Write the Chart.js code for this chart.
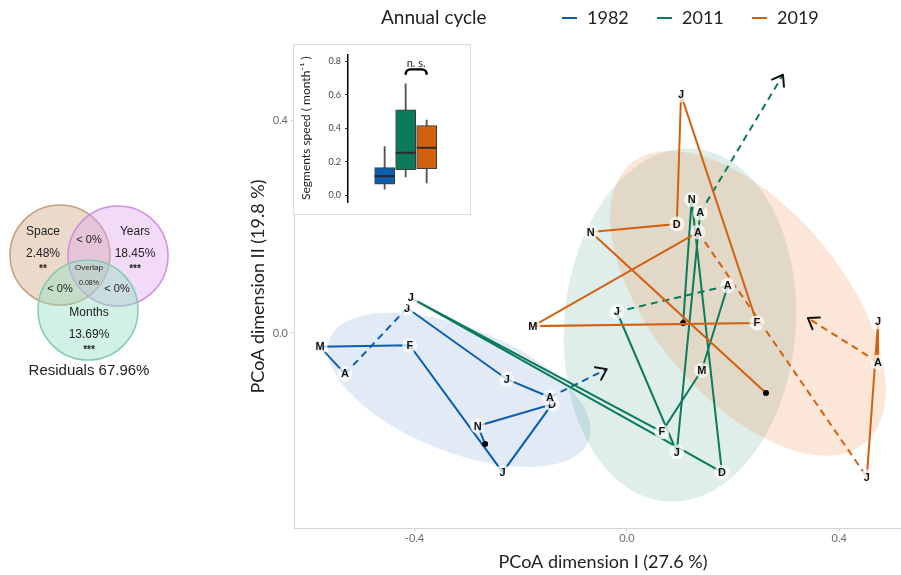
<!DOCTYPE html>
<html>
<head>
<meta charset="utf-8">
<title>Annual cycle – PCoA trajectories</title>
<script src="https://cdn.jsdelivr.net/npm/chart.js@4.4.1/dist/chart.umd.min.js"></script>
<style>
  html, body { margin: 0; padding: 0; background: #fff; }
  #stage { position: relative; width: 901px; height: 575px; overflow: hidden; }
  #main { position: absolute; left: 0; top: 0; }
  #venn { position: absolute; left: 0; top: 180px; }
  #insetFrame { position: absolute; left: 293px; top: 44px; width: 176px; height: 169px;
                border: 1px solid #dcdcdc; background: #fff; }
  #inset { position: absolute; left: 0; top: 0; }
</style>
</head>
<body>
<div id="stage">
  <canvas id="main" width="912" height="575"></canvas>
  <canvas id="venn" width="240" height="210"></canvas>
  <div id="insetFrame"><canvas id="inset" width="176" height="169"></canvas></div>
</div>
<script>
// ---------------- data ----------------
const years = ['1982', '2011', '2019'];
const yearColors = ['#0d5eae', '#0b7b5a', '#d2600f'];

// Each trajectory: cycle start (dot), Nov ... Aug, then the arrow end.
const monthLabels = ['', 'N', 'D', 'J', 'F', 'M', 'A', 'J', 'J', 'A', ''];
// segments that bridge unsampled months are dashed (index of the segment's first point)
const gapSegments = [6, 9];

const pcoa1982X = [-0.267, -0.281, -0.141, -0.234, -0.409, -0.578, -0.531, -0.414, -0.226, -0.145, -0.038];
const pcoa1982Y = [-0.209, -0.175, -0.134, -0.262, -0.023, -0.026, -0.077,  0.047, -0.087, -0.121, -0.068];

const pcoa2011X = [ 0.106,  0.122,  0.179, -0.407,  0.066,  0.141,  0.190, -0.019,  0.094,  0.138,  0.294];
const pcoa2011Y = [ 0.019,  0.251, -0.262,  0.066, -0.186, -0.070,  0.089,  0.040, -0.224,  0.226,  0.486];

const pcoa2019X = [ 0.262, -0.068,  0.094,  0.102,  0.245, -0.177,  0.134,  0.452,  0.473,  0.473,  0.341];
const pcoa2019Y = [-0.113,  0.190,  0.205,  0.448,  0.019,  0.013,  0.190, -0.271,  0.021, -0.055,  0.028];

const seriesX = [pcoa1982X, pcoa2011X, pcoa2019X];
const seriesY = [pcoa1982Y, pcoa2011Y, pcoa2019Y];

// confidence ellipses per year (centre, semi-axes, orientation in degrees)
const ellipseCenterX = [-0.316, 0.100, 0.228];
const ellipseCenterY = [-0.107, 0.015, 0.056];
const ellipseMajor   = [ 0.262, 0.333, 0.343];
const ellipseMinor   = [ 0.117, 0.218, 0.179];
const ellipseAngle   = [-21.5,  85.4, -50.0];
const ellipseFill = ['rgba(13,94,174,0.12)', 'rgba(11,123,90,0.13)', 'rgba(240,130,60,0.20)'];

const xTicks = [-0.4, 0.0, 0.4];
const yTicks = [0.0, 0.4];

// segment speed distribution per year
const speedLow    = [0.036, 0.109, 0.073];
const speedQ1     = [0.065, 0.152, 0.158];
const speedMedian = [0.113, 0.253, 0.283];
const speedQ3     = [0.164, 0.510, 0.415];
const speedHigh   = [0.290, 0.666, 0.449];
const speedTicks  = [0.0, 0.2, 0.4, 0.6, 0.8];

// variance partitioning
const vennSets   = ['Space', 'Years', 'Months'];
const vennUnique = ['2.48%', '18.45%', '13.69%'];
const vennStars  = ['**', '***', '***'];
const vennPairs  = ['< 0%', '< 0%', '< 0%'];   // Space∩Years, Space∩Months, Years∩Months
const vennCommon = '0.08%';
const vennResidual = '67.96%';

const UI_FONT = 'Lato, "Open Sans", sans-serif';
const LABEL_FONT = '"Liberation Sans", Arial, sans-serif';

// ---------------- main ordination plot ----------------
const ellipses = {
  id: 'ellipses',
  beforeDatasetsDraw(chart) {
    const {ctx, chartArea: a, scales: {x, y}} = chart;
    ctx.save();
    ctx.beginPath();
    ctx.rect(a.left, a.top, a.right - a.left, a.bottom - a.top);
    ctx.clip();
    years.forEach((_, k) => {
      const phi = ellipseAngle[k] * Math.PI / 180;
      ctx.beginPath();
      for (let s = 0; s <= 180; s++) {
        const t = s / 180 * 2 * Math.PI;
        const dx = ellipseMajor[k] * Math.cos(t) * Math.cos(phi) - ellipseMinor[k] * Math.sin(t) * Math.sin(phi);
        const dy = ellipseMajor[k] * Math.cos(t) * Math.sin(phi) + ellipseMinor[k] * Math.sin(t) * Math.cos(phi);
        const px = x.getPixelForValue(ellipseCenterX[k] + dx);
        const py = y.getPixelForValue(ellipseCenterY[k] + dy);
        if (s === 0) ctx.moveTo(px, py); else ctx.lineTo(px, py);
      }
      ctx.closePath();
      ctx.fillStyle = ellipseFill[k];
      ctx.fill();
    });
    ctx.restore();
  }
};

const monthTags = {
  id: 'monthTags',
  afterDatasetsDraw(chart) {
    const ctx = chart.ctx;
    ctx.save();
    // arrow heads at the end of each trajectory
    chart.data.datasets.forEach((ds, k) => {
      const pts = chart.getDatasetMeta(k).data;
      const tip = pts[pts.length - 1], prev = pts[pts.length - 2];
      const ang = Math.atan2(tip.y - prev.y, tip.x - prev.x);
      ctx.strokeStyle = '#111';
      ctx.lineWidth = 2;
      ctx.lineCap = 'round';
      ctx.beginPath();
      [0.62, -0.62].forEach(d => {
        ctx.moveTo(tip.x, tip.y);
        ctx.lineTo(tip.x + 12 * Math.cos(ang + Math.PI + d), tip.y + 12 * Math.sin(ang + Math.PI + d));
      });
      ctx.stroke();
    });
    // month letters on a pale disc
    chart.data.datasets.forEach((ds, k) => {
      chart.getDatasetMeta(k).data.forEach((pt, i) => {
        const lab = monthLabels[i];
        if (!lab) return;
        ctx.fillStyle = 'rgba(255,255,255,0.72)';
        ctx.beginPath();
        ctx.arc(pt.x, pt.y, 7.5, 0, 2 * Math.PI);
        ctx.fill();
        ctx.fillStyle = '#111';
        ctx.font = 'bold 11px ' + LABEL_FONT;
        ctx.textAlign = 'center';
        ctx.textBaseline = 'middle';
        ctx.fillText(lab, pt.x, pt.y + 0.5);
      });
    });
    ctx.restore();
  }
};

const topLegend = {
  id: 'topLegend',
  afterDraw(chart) {
    const ctx = chart.ctx;
    ctx.save();
    ctx.textBaseline = 'middle';
    ctx.textAlign = 'left';
    ctx.fillStyle = '#222';
    ctx.font = '19px ' + UI_FONT;
    ctx.fillText('Annual cycle', 381, 18);
    ctx.font = '18px ' + UI_FONT;
    chart.data.datasets.forEach((ds, k) => {
      const x = 562 + 95 * k;
      ctx.strokeStyle = ds.borderColor;
      ctx.lineWidth = 2;
      ctx.beginPath();
      ctx.moveTo(x, 18);
      ctx.lineTo(x + 15, 18);
      ctx.stroke();
      ctx.fillStyle = '#222';
      ctx.fillText(ds.label, x + 25, 18);
    });
    ctx.restore();
  }
};

new Chart(document.getElementById('main'), {
  type: 'scatter',
  data: {
    datasets: years.map((yr, k) => ({
      label: yr,
      data: seriesX[k].map((v, i) => ({x: v, y: seriesY[k][i]})),
      showLine: true,
      borderColor: yearColors[k],
      borderWidth: 2,
      tension: 0,
      pointRadius: c => c.dataIndex === 0 ? 3 : 0,
      pointBackgroundColor: '#000',
      pointBorderWidth: 0,
      segment: {borderDash: c => gapSegments.includes(c.p0DataIndex) ? [7, 5] : undefined},
      order: years.length - k
    }))
  },
  options: {
    responsive: false,
    animation: false,
    events: [],
    layout: {autoPadding: false, padding: {top: 45, right: 0, bottom: 0, left: 0}},
    plugins: {legend: {display: false}, tooltip: {enabled: false}},
    scales: {
      x: {
        type: 'linear', min: -0.627, max: 0.537,
        afterBuildTicks: s => { s.ticks = xTicks.map(v => ({value: v})); },
        afterFit: s => { s.height = 47; },
        grid: {display: true, drawOnChartArea: false, drawTicks: true, tickLength: 3, color: '#cfcfcf'},
        border: {display: true, color: '#d4d4d4', width: 1},
        ticks: {color: '#6e6e6e', font: {family: UI_FONT, size: 11}, padding: 1,
                callback: v => Number(v).toFixed(1)},
        title: {display: true, text: 'PCoA dimension I (27.6 %)', color: '#222',
                font: {family: UI_FONT, size: 18}, padding: {top: 0, bottom: 2}}
      },
      y: {
        type: 'linear', min: -0.367, max: 0.542,
        afterBuildTicks: s => { s.ticks = yTicks.map(v => ({value: v})); },
        afterFit: s => { s.width = 294; },
        grid: {display: true, drawOnChartArea: false, drawTicks: true, tickLength: 3, color: '#cfcfcf'},
        border: {display: true, color: '#d4d4d4', width: 1},
        ticks: {color: '#6e6e6e', font: {family: UI_FONT, size: 11}, padding: 3,
                callback: v => Number(v).toFixed(1)},
        title: {display: true, text: 'PCoA dimension II (19.8 %)', color: '#222',
                font: {family: UI_FONT, size: 18}, padding: {top: 247, bottom: 0}}
      }
    }
  },
  plugins: [ellipses, monthTags, topLegend]
});

// ---------------- inset: segment speed boxplots ----------------
const boxDecor = {
  id: 'boxDecor',
  afterDatasetsDraw(chart) {
    const {ctx, scales: {x, y}} = chart;
    ctx.save();
    // medians
    ctx.strokeStyle = '#2a2a2a';
    ctx.lineWidth = 2;
    speedMedian.forEach((m, i) => {
      const cx = x.getPixelForValue(i + 1), py = y.getPixelForValue(m);
      ctx.beginPath();
      ctx.moveTo(cx - 10, py);
      ctx.lineTo(cx + 10, py);
      ctx.stroke();
    });
    // significance bracket between 2011 and 2019
    const x1 = x.getPixelForValue(2), x2 = x.getPixelForValue(3);
    const yTop = y.getPixelForValue(0.752), yEnd = y.getPixelForValue(0.72);
    ctx.strokeStyle = '#000';
    ctx.lineWidth = 2.4;
    ctx.lineJoin = 'round';
    ctx.beginPath();
    ctx.moveTo(x1, yEnd);
    ctx.quadraticCurveTo(x1, yTop, x1 + 5, yTop);
    ctx.lineTo(x2 - 5, yTop);
    ctx.quadraticCurveTo(x2, yTop, x2, yEnd);
    ctx.stroke();
    ctx.fillStyle = '#222';
    ctx.font = '11px ' + UI_FONT;
    ctx.textAlign = 'center';
    ctx.textBaseline = 'middle';
    ctx.fillText('n. s.', (x1 + x2) / 2, y.getPixelForValue(0.79));
    ctx.restore();
  }
};

new Chart(document.getElementById('inset'), {
  type: 'bar',
  data: {
    datasets: [
      {
        data: years.map((_, i) => ({x: i + 1, y: [speedQ1[i], speedQ3[i]]})),
        backgroundColor: yearColors,
        borderColor: '#3c3c3c',
        borderWidth: 1,
        borderSkipped: false,
        barThickness: 20,
        grouped: false,
        order: 1
      },
      {
        data: years.map((_, i) => ({x: i + 1, y: [speedLow[i], speedHigh[i]]})),
        backgroundColor: '#555',
        borderWidth: 0,
        barThickness: 1.2,
        grouped: false,
        order: 2
      }
    ]
  },
  options: {
    responsive: false,
    animation: false,
    events: [],
    layout: {autoPadding: false, padding: {top: 8, right: 6, bottom: 12, left: 0}},
    plugins: {legend: {display: false}, tooltip: {enabled: false}},
    scales: {
      x: {type: 'linear', min: 0.175, max: 3.857, display: false},
      y: {
        type: 'linear', min: -0.0415, max: 0.8415,
        afterBuildTicks: s => { s.ticks = speedTicks.map(v => ({value: v})); },
        afterFit: s => { s.width = 54; },
        grid: {display: true, drawOnChartArea: false, drawTicks: true, tickLength: 3, color: '#333'},
        border: {display: true, color: '#000', width: 1.5},
        ticks: {color: '#444', font: {family: UI_FONT, size: 9}, padding: 4,
                callback: v => Number(v).toFixed(1)},
        title: {display: true, text: 'Segments speed ( month⁻¹ )', color: '#222',
                font: {family: UI_FONT, size: 12}, padding: {top: 5, bottom: 0}}
      }
    }
  },
  plugins: [boxDecor]
});

// ---------------- variance partitioning diagram ----------------
const vennLayout = {
  circles: [{x: 60, y: 75}, {x: 118, y: 76}, {x: 88, y: 130}],
  radius: 50,
  fill: ['rgba(205,160,120,0.40)', 'rgba(222,165,240,0.40)', 'rgba(150,225,195,0.45)'],
  stroke: ['rgba(190,150,118,0.9)', 'rgba(200,135,225,0.9)', 'rgba(120,200,170,0.9)'],
  nameAt: [{x: 43, y: 52}, {x: 135, y: 52}, {x: 89, y: 133}],
  pairAt: [{x: 89, y: 60}, {x: 60, y: 109}, {x: 117, y: 109}],
  commonAt: {x: 89, y: 88},
  residualAt: {x: 89, y: 191}
};

const vennText = {
  id: 'vennText',
  afterDatasetsDraw(chart) {
    const {ctx, scales: {x, y}} = chart;
    const P = (p, dy = 0) => [x.getPixelForValue(p.x), y.getPixelForValue(p.y + dy)];
    ctx.save();
    ctx.fillStyle = '#222';
    ctx.textAlign = 'center';
    ctx.textBaseline = 'middle';
    vennSets.forEach((name, i) => {
      const at = vennLayout.nameAt[i];
      ctx.font = '12px ' + LABEL_FONT;
      ctx.fillText(name, ...P(at));
      ctx.fillText(vennUnique[i], ...P(at, 22));
      ctx.font = 'bold 10px ' + LABEL_FONT;
      ctx.fillText(vennStars[i], ...P(at, 37));
    });
    ctx.font = '11px ' + LABEL_FONT;
    vennPairs.forEach((t, i) => ctx.fillText(t, ...P(vennLayout.pairAt[i])));
    ctx.font = '8px ' + LABEL_FONT;
    ctx.fillText('Overlap', ...P(vennLayout.commonAt));
    ctx.font = '7px ' + LABEL_FONT;
    ctx.fillText(vennCommon, ...P(vennLayout.commonAt, 15));
    ctx.font = '15px ' + LABEL_FONT;
    ctx.fillText('Residuals ' + vennResidual, ...P(vennLayout.residualAt));
    ctx.restore();
  }
};

new Chart(document.getElementById('venn'), {
  type: 'bubble',
  data: {
    datasets: vennSets.map((name, i) => ({
      label: name,
      data: [{x: vennLayout.circles[i].x, y: vennLayout.circles[i].y, r: vennLayout.radius}],
      backgroundColor: vennLayout.fill[i],
      borderColor: vennLayout.stroke[i],
      borderWidth: 1.5,
      clip: false,
      order: vennSets.length - i
    }))
  },
  options: {
    responsive: false,
    animation: false,
    events: [],
    layout: {autoPadding: false, padding: 0},
    plugins: {legend: {display: false}, tooltip: {enabled: false}},
    scales: {
      x: {type: 'linear', min: 0, max: 240, display: false},
      y: {type: 'linear', min: 0, max: 210, reverse: true, display: false}
    }
  },
  plugins: [vennText]
});
</script>
</body>
</html>
